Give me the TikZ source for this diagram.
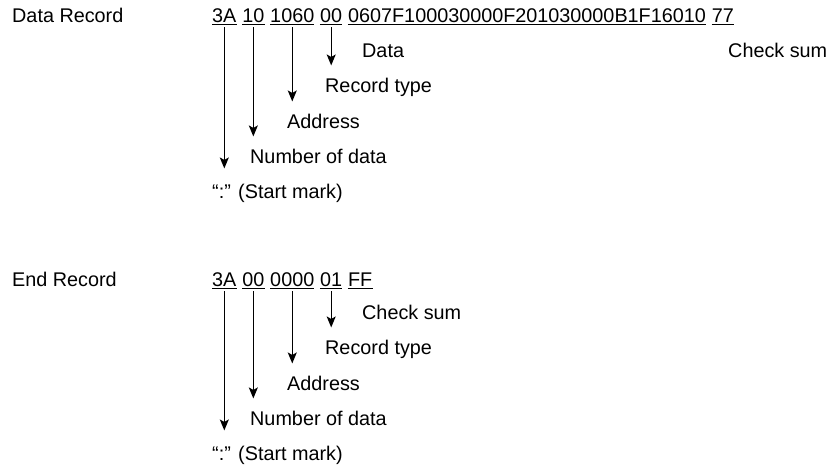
\documentclass[tikz,border=0pt]{standalone}
\usepackage{fontspec}
\setmainfont{Liberation Sans}
\usetikzlibrary{arrows.meta, positioning}

\begin{document}
\begin{tikzpicture}[x=1pt, y=-1pt,
    every node/.style={inner sep=0pt, anchor=base west, font=\fontsize{19.8}{24}\selectfont},
    fld/.style={base right=5.5pt of #1},
    uline/.style={line width=1.2pt},
    ptr/.style={line width=1.3pt, -{Stealth[length=11pt, width=9pt, inset=2.5pt]}}]
\useasboundingbox (0,0) rectangle (831,467);

% data record
\node (dtitle) at (12,22) {Data Record};
\node (dstart) at (212,22) {3A};
\node[fld=dstart] (dcount) {10};
\node[fld=dcount] (daddr) {1060};
\node[fld=daddr] (dtype) {00};
\node[fld=dtype] (ddata) {0607F100030000F201030000B1F16010};
\node[fld=ddata] (dsum) {77};
\foreach \f in {dstart, dcount, daddr, dtype, ddata, dsum}
    \draw[uline] ([yshift=-2.5pt]\f.base west) -- ([yshift=-2.5pt]\f.base east);

\node (ldata) at (362,57) {Data};
\node (lsum) at (728,57) {Check sum};
\node (ltype) at (325,92) {Record type};
\node (laddr) at (287,128) {Address};
\node (lcount) at (250,163) {Number of data};
\node (lstart) at (212,198) {“:” (Start mark)};

\draw[ptr] ([yshift=-5pt]dtype.base) -- ([yshift=12pt]dtype.base |- ltype.north);
\draw[ptr] ([yshift=-5pt]daddr.base) -- ([yshift=12pt]daddr.base |- laddr.north);
\draw[ptr] ([yshift=-5pt]dcount.base) -- ([yshift=12pt]dcount.base |- lcount.north);
\draw[ptr] ([yshift=-5pt]dstart.base) -- ([yshift=15pt]dstart.base |- lstart.north);

% end record
\node (etitle) at (12,286) {End Record};
\node (estart) at (212,286) {3A};
\node[fld=estart] (ecount) {00};
\node[fld=ecount] (eaddr) {0000};
\node[fld=eaddr] (etype) {01};
\node[fld=etype] (esum) {FF};
\foreach \f in {estart, ecount, eaddr, etype, esum}
    \draw[uline] ([yshift=-2.5pt]\f.base west) -- ([yshift=-2.5pt]\f.base east);

\node (msum) at (362,319) {Check sum};
\node (mtype) at (325,354) {Record type};
\node (maddr) at (287,390) {Address};
\node (mcount) at (250,425) {Number of data};
\node (mstart) at (212,460) {“:” (Start mark)};

\draw[ptr] ([yshift=-5pt]etype.base) -- ([yshift=12pt]etype.base |- mtype.north);
\draw[ptr] ([yshift=-5pt]eaddr.base) -- ([yshift=12pt]eaddr.base |- maddr.north);
\draw[ptr] ([yshift=-5pt]ecount.base) -- ([yshift=12pt]ecount.base |- mcount.north);
\draw[ptr] ([yshift=-5pt]estart.base) -- ([yshift=15pt]estart.base |- mstart.north);
\end{tikzpicture}
\end{document}
